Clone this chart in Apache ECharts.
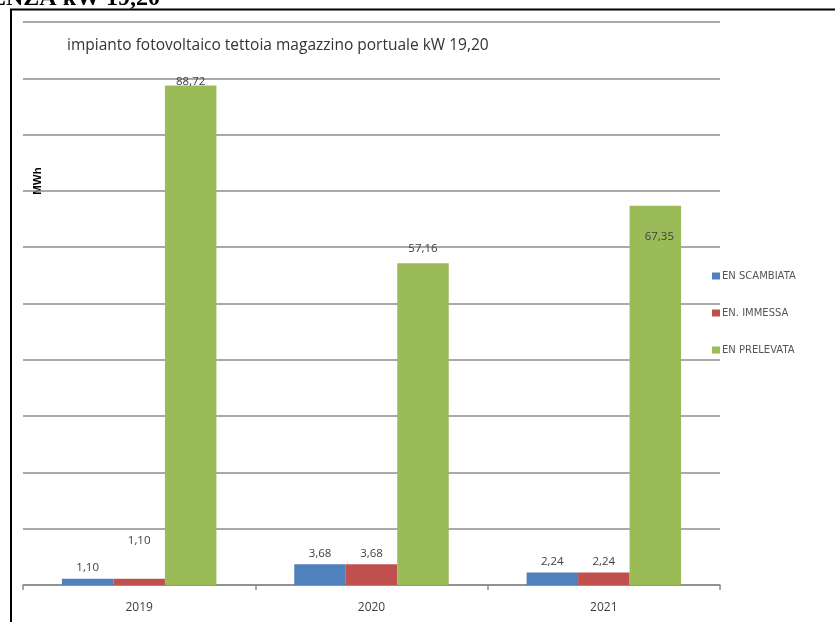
<!DOCTYPE html>
<html>
<head>
<meta charset="utf-8">
<style>
  html, body { margin: 0; padding: 0; background: #ffffff; }
  #chart { width: 835px; height: 622px; }
</style>
<script src="https://cdn.jsdelivr.net/npm/echarts@6/dist/echarts.min.js"></script>
</head>
<body>
<div id="chart"></div>
<script>
// Energy balance of the 19.20 kW PV plant, MWh per year
const years = ['2019', '2020', '2021'];
const enScambiata = [1.10, 3.68, 2.24];
const enImmessa = [1.10, 3.68, 2.24];
const enPrelevata = [88.72, 57.16, 67.35];
const seriesNames = ['EN SCAMBIATA', 'EN. IMMESSA', 'EN PRELEVATA'];
const yTicks = [0, 10, 20, 30, 40, 50, 60, 70, 80, 90, 100];

const colors = ['#4f81bd', '#c0504d', '#9bbb59'];
const fmt = v => v.toFixed(2).replace('.', ',');

// per-bar label tweaks (label placement only)
const labelTweaks = {
  'EN. IMMESSA': [{ distance: 32 }, {}, {}],
  'EN PRELEVATA': [{ distance: -2 }, { distance: 8 }, { position: 'insideTop', distance: 25, offset: [4, 0] }]
};

function buildData(name, values) {
  const tweaks = labelTweaks[name] || [];
  return values.map((v, i) => tweaks[i] && Object.keys(tweaks[i]).length
    ? { value: v, label: Object.assign({}, tweaks[i]) }
    : v);
}

const labelStyle = {
  show: true,
  position: 'top',
  distance: 5,
  color: '#404040',
  fontFamily: 'Open Sans',
  fontSize: 11.5,
  formatter: p => fmt(p.value)
};

const chart = echarts.init(document.getElementById('chart'), null, { renderer: 'canvas' });

chart.setOption({
  animation: false,
  backgroundColor: '#ffffff',
  color: colors,
  title: {
    text: 'impianto fotovoltaico tettoia magazzino portuale kW 19,20',
    left: 62,
    top: 33,
    textStyle: {
      fontFamily: 'Open Sans',
      fontSize: 15.5,
      fontWeight: 'normal',
      color: '#333333'
    }
  },
  legend: {
    orient: 'vertical',
    left: 707,
    top: 266,
    itemWidth: 8,
    itemHeight: 7,
    itemGap: 27,
    icon: 'rect',
    data: seriesNames,
    textStyle: {
      fontFamily: 'DejaVu Sans',
      fontSize: 10,
      lineHeight: 10,
      color: '#555555',
      padding: [0, 0, 0, -3]
    }
  },
  grid: {
    left: 23,
    right: 115,
    top: 22,
    bottom: 37,
    containLabel: false
  },
  xAxis: {
    type: 'category',
    data: years,
    axisLine: { show: true, lineStyle: { color: '#8a8a8a', width: 1.5 } },
    axisTick: { show: true, alignWithLabel: false, length: 5, lineStyle: { color: '#8a8a8a', width: 1.5 } },
    axisLabel: { color: '#404040', fontFamily: 'Open Sans', fontSize: 12, margin: 17 }
  },
  yAxis: {
    type: 'value',
    min: yTicks[0],
    max: yTicks[yTicks.length - 1],
    interval: yTicks[1] - yTicks[0],
    axisLine: { show: false },
    axisTick: { show: false },
    axisLabel: { show: false },
    splitLine: { show: true, lineStyle: { color: '#8c8c8c', width: 1.6 } }
  },
  series: [
    { name: seriesNames[0], values: enScambiata },
    { name: seriesNames[1], values: enImmessa },
    { name: seriesNames[2], values: enPrelevata }
  ].map(s => ({
    name: s.name,
    type: 'bar',
    barGap: '0%',
    barCategoryGap: '33.5%',
    label: labelStyle,
    data: buildData(s.name, s.values)
  })),
  graphic: [
    {
      type: 'text',
      x: 160,
      y: 11,
      style: {
        text: 'POTENZA kW 19,20',
        align: 'right',
        verticalAlign: 'bottom',
        font: 'bold 24px "Liberation Serif"',
        fill: '#000000'
      }
    },
    {
      type: 'line',
      shape: { x1: 10, y1: 9.5, x2: 835, y2: 9.5 },
      style: { stroke: '#000000', lineWidth: 2 }
    },
    {
      type: 'line',
      shape: { x1: 11, y1: 9, x2: 11, y2: 622 },
      style: { stroke: '#000000', lineWidth: 2 }
    },
    {
      type: 'text',
      x: 38,
      y: 181,
      rotation: Math.PI / 2,
      style: {
        text: 'MWh',
        align: 'center',
        verticalAlign: 'middle',
        font: 'bold 11.5px "Liberation Sans"',
        fill: '#000000'
      }
    }
  ]
});
</script>
</body>
</html>
